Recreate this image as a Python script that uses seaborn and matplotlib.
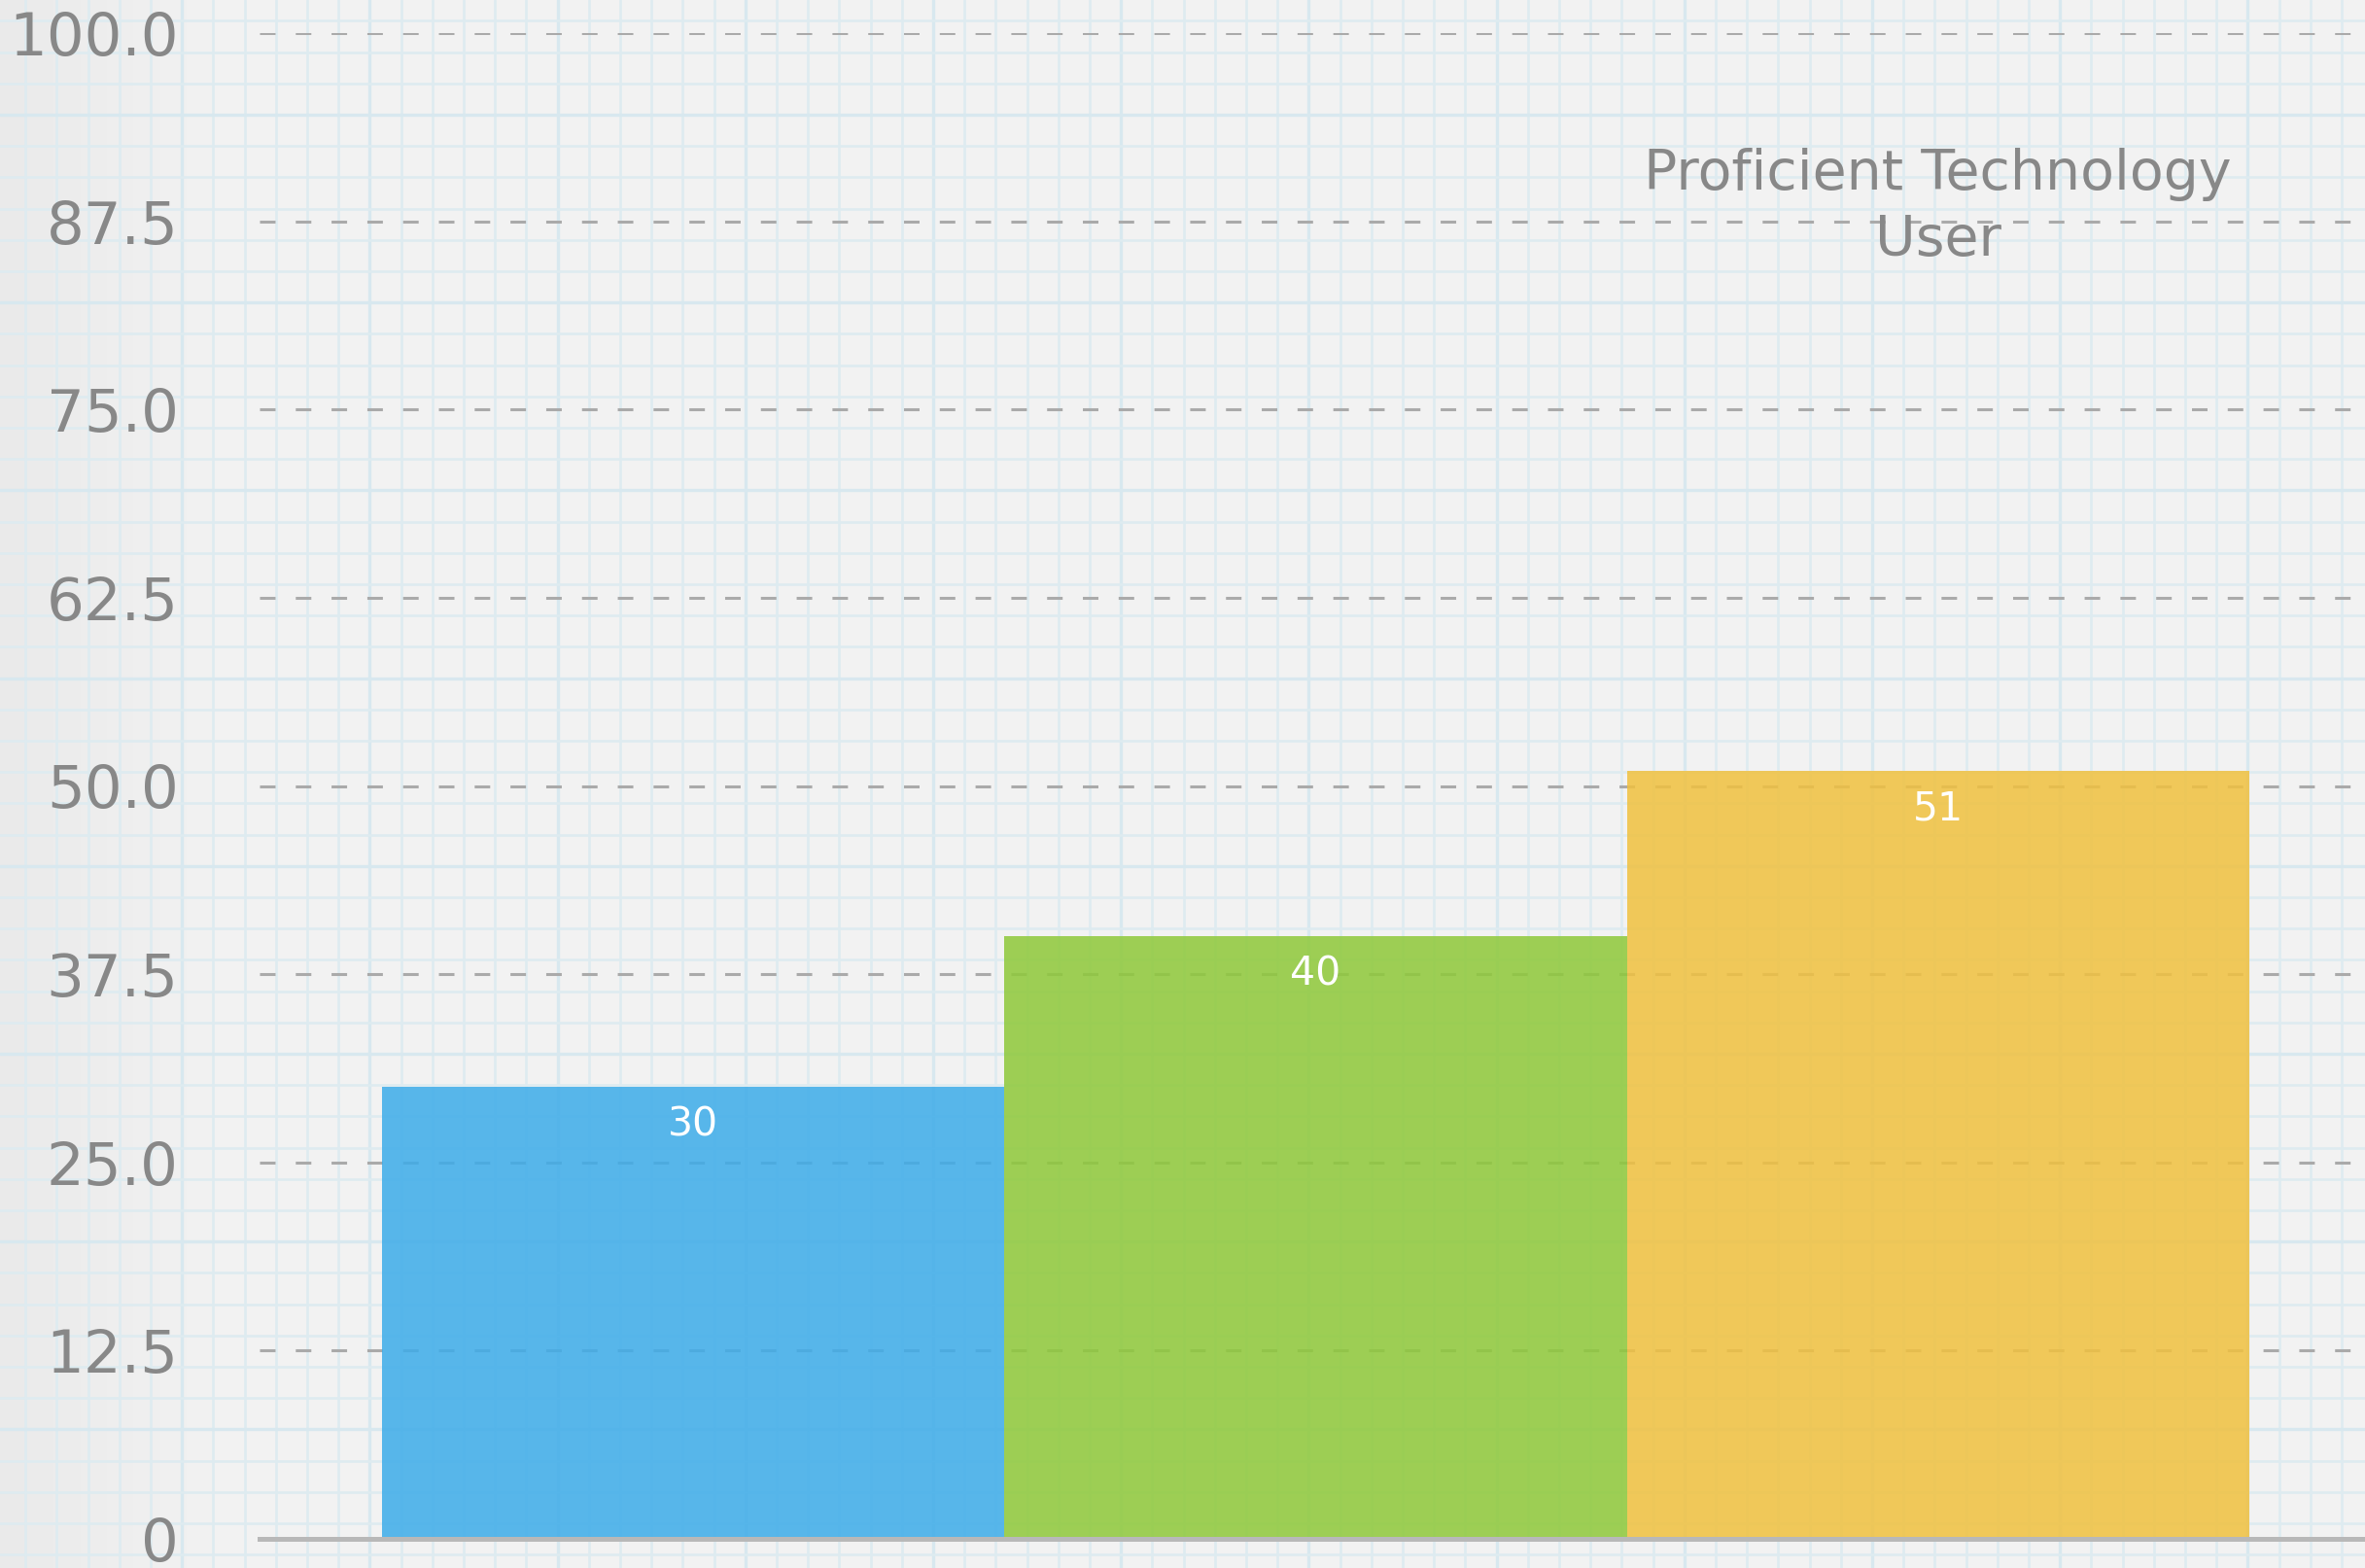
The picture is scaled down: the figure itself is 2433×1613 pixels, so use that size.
import numpy as np
import matplotlib
matplotlib.use("Agg")
import matplotlib.pyplot as plt
import pandas as pd
import seaborn as sns

# chart data
categories = ["Group 1", "Group 2", "Group 3"]
values = [30, 40, 51]
bar_colors = ["#3eace9", "#8fc93a", "#f0c140"]
y_ticks = [0, 12.5, 25, 37.5, 50, 62.5, 75, 87.5, 100]
y_tick_labels = ["0", "12.5", "25.0", "37.5", "50.0", "62.5", "75.0", "87.5", "100.0"]
title = "Proficient Technology\nUser"

df = pd.DataFrame({"category": categories, "value": values})

sns.set_style("white")
plt.rcParams["font.family"] = ["DejaVu Sans"]
plt.rcParams["lines.scale_dashes"] = False

W, H = 2433, 1613
fig = plt.figure(figsize=(W / 100, H / 100), dpi=100)
fig.patch.set_facecolor("#f2f2f2")

# graph paper background
bg = fig.add_axes([0, 0, 1, 1], zorder=-10)
bg.set_xlim(0, W)
bg.set_ylim(H, 0)
bg.set_facecolor("#f2f2f2")
grad = np.linspace(0.0, 1.0, 256)[None, :]
bg.imshow(grad, extent=[0, 220, H, 0], cmap=matplotlib.colors.LinearSegmentedColormap.from_list(
    "edge", ["#eaeaea", "#f2f2f2"]), aspect="auto", zorder=0)
step = 32.2
for x in np.arange(-6 + step, W, step):
    k = round((x + 6) / step)
    heavy = k % 6 == 0
    bg.axvline(x, color="#d8e8ef" if heavy else "#deebf0", lw=2.4 if heavy else 1.9, zorder=1)
for y in np.arange(118 - 3 * step, H, step):
    k = round((y - 118) / step)
    heavy = k % 6 == 0
    bg.axhline(y, color="#d8e8ef" if heavy else "#deebf0", lw=2.4 if heavy else 1.9, zorder=1)
bg.set_axis_off()

# main chart
ax = fig.add_axes([267 / W, 30 / H, 1 - 267 / W, (1583 - 34) / H])
ax.patch.set_alpha(0)
sns.barplot(data=df, x="category", y="value", hue="category", palette=bar_colors,
            width=1.0, alpha=0.86, saturation=1, legend=False, ax=ax, zorder=2, linewidth=0)

ax.set_xlim(-0.697, 2.686)
ax.set_ylim(0, 100)
ax.set_yticks(y_ticks)
ax.set_yticklabels(y_tick_labels)
ax.set_xticks([])
ax.set_xlabel("")
ax.set_ylabel("")
ax.tick_params(axis="y", length=0, pad=60, labelsize=44, labelcolor="#888888")

ax.set_axisbelow(True)
ax.yaxis.grid(True, color="#aaaaaa", lw=2.2, linestyle=(0, (11.5, 15)))
for s in ["top", "right", "left"]:
    ax.spines[s].set_visible(False)
ax.spines["bottom"].set_color("#b8b8b8")
ax.spines["bottom"].set_linewidth(3.6)
ax.spines["bottom"].set_zorder(5)

for i, v in enumerate(values):
    ax.annotate(str(v), (i, v), xytext=(0, -28.5), textcoords="offset points",
                ha="center", va="center", color="white", fontsize=29.5, zorder=6)

ax.text(2, 88.4, title, ha="center", va="center", multialignment="center",
        fontsize=41, color="#888888", linespacing=1.3)

fig.savefig("out.png", dpi=100, facecolor=fig.get_facecolor())
